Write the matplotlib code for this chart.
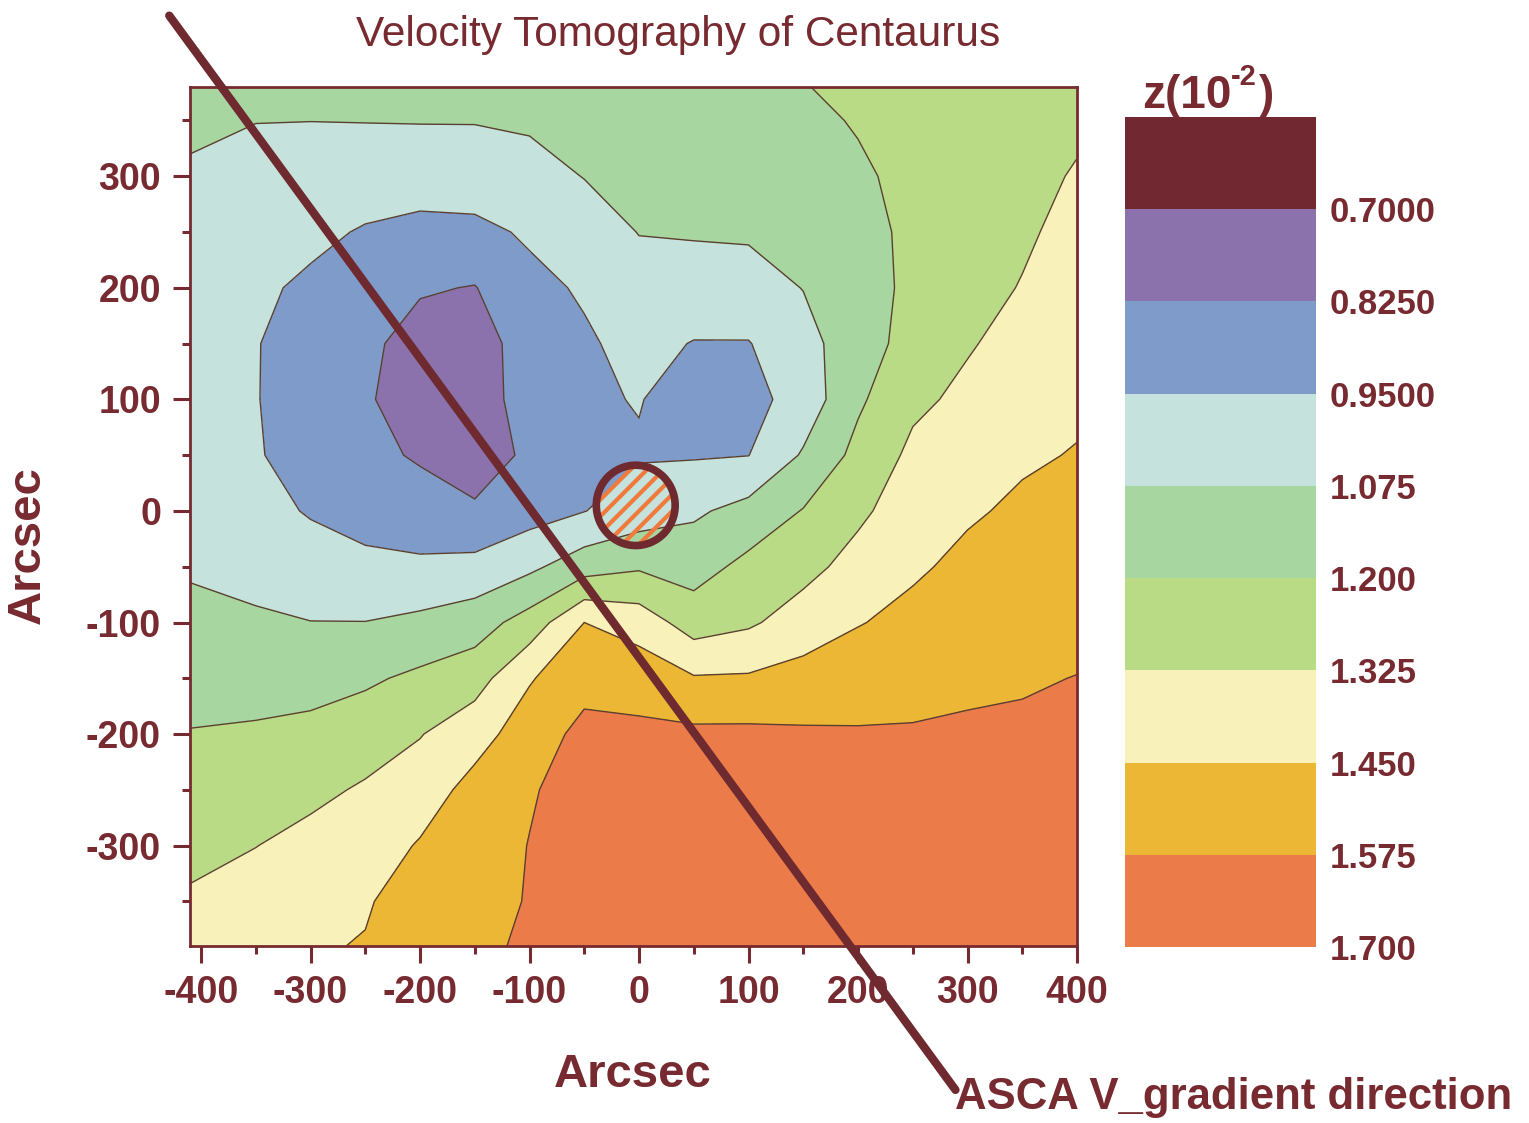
import numpy as np
import matplotlib.pyplot as plt
from matplotlib.patches import Circle

plt.rcParams['font.family'] = ['Liberation Sans', 'DejaVu Sans']
plt.rcParams['axes.unicode_minus'] = False
plt.rcParams['hatch.linewidth'] = 3.0

# Redshift z (units of 1e-2) on a coarse grid (arcsec)
x_arcsec = [-410, -350, -300, -250, -200, -150, -100, -50, 0, 50, 100, 150, 200, 250, 300, 350, 400]
y_arcsec = [380, 350, 300, 250, 200, 150, 100, 50, 0, -50, -100, -150, -200, -250, -300, -350, -390]

# one row per y value, top to bottom
z_rows = [
    [1.110, 1.090, 1.085, 1.090, 1.095, 1.100, 1.110, 1.130, 1.150, 1.160, 1.170, 1.195, 1.230, 1.260, 1.280, 1.290, 1.300],
    [1.090, 1.077, 1.076, 1.078, 1.080, 1.080, 1.090, 1.110, 1.130, 1.140, 1.150, 1.170, 1.210, 1.250, 1.275, 1.290, 1.310],
    [1.065, 1.040, 1.025, 1.009, 1.003, 1.012, 1.036, 1.078, 1.100, 1.110, 1.120, 1.130, 1.180, 1.235, 1.270, 1.300, 1.332],
    [1.040, 1.000, 0.976, 0.940, 0.918, 0.921, 0.965, 1.021, 1.078, 1.085, 1.090, 1.100, 1.160, 1.225, 1.275, 1.310, 1.356],
    [1.020, 0.970, 0.930, 0.900, 0.836, 0.820, 0.920, 0.963, 1.032, 1.021, 1.025, 1.078, 1.150, 1.225, 1.290, 1.330, 1.381],
    [1.005, 0.955, 0.900, 0.850, 0.780, 0.760, 0.890, 0.935, 0.985, 0.945, 0.945, 1.030, 1.150, 1.240, 1.315, 1.365, 1.406],
    [1.000, 0.955, 0.890, 0.840, 0.760, 0.740, 0.900, 0.935, 0.955, 0.900, 0.910, 1.000, 1.180, 1.300, 1.351, 1.400, 1.430],
    [1.005, 0.960, 0.900, 0.860, 0.810, 0.770, 0.845, 0.910, 0.940, 0.940, 0.948, 1.088, 1.236, 1.351, 1.394, 1.435, 1.456],
    [1.020, 0.990, 0.940, 0.910, 0.885, 0.840, 0.900, 0.947, 1.010, 1.056, 1.116, 1.206, 1.300, 1.392, 1.436, 1.469, 1.486],
    [1.065, 1.040, 1.006, 0.975, 0.969, 0.988, 1.049, 1.145, 1.185, 1.150, 1.234, 1.286, 1.370, 1.433, 1.477, 1.501, 1.516],
    [1.100, 1.090, 1.077, 1.077, 1.103, 1.142, 1.253, 1.450, 1.396, 1.266, 1.307, 1.383, 1.444, 1.482, 1.516, 1.534, 1.547],
    [1.157, 1.154, 1.157, 1.181, 1.225, 1.272, 1.440, 1.532, 1.523, 1.460, 1.464, 1.495, 1.518, 1.536, 1.555, 1.566, 1.577],
    [1.205, 1.215, 1.231, 1.267, 1.319, 1.403, 1.510, 1.610, 1.600, 1.600, 1.600, 1.590, 1.585, 1.585, 1.590, 1.590, 1.595],
    [1.250, 1.269, 1.297, 1.339, 1.390, 1.490, 1.565, 1.620, 1.630, 1.630, 1.625, 1.620, 1.615, 1.610, 1.605, 1.600, 1.605],
    [1.295, 1.323, 1.361, 1.388, 1.460, 1.520, 1.578, 1.630, 1.645, 1.645, 1.640, 1.635, 1.630, 1.625, 1.620, 1.615, 1.615],
    [1.339, 1.377, 1.400, 1.436, 1.520, 1.545, 1.580, 1.640, 1.650, 1.650, 1.645, 1.645, 1.640, 1.635, 1.630, 1.625, 1.620],
    [1.375, 1.421, 1.435, 1.458, 1.560, 1.565, 1.582, 1.640, 1.650, 1.650, 1.650, 1.650, 1.645, 1.640, 1.635, 1.630, 1.625],
]

levels = [0.575, 0.700, 0.825, 0.950, 1.075, 1.200, 1.325, 1.450, 1.575, 1.700]
level_labels = ['0.7000', '0.8250', '0.9500', '1.075', '1.200', '1.325', '1.450', '1.575', '1.700']
band_colors = ['#722830', '#8c72ad', '#7f9bca', '#c6e2dd', '#a8d6a1', '#badb86',
               '#f8f1ba', '#ecb734', '#ec7b4a']

# cluster core marker and ASCA gradient direction
core_x, core_y, core_r = -3, 5, 36
grad_x = [-429, 289]
grad_y = [444, -519]

maroon = '#772a2f'
line_col = '#5a4030'

fig = plt.figure(figsize=(15.29, 11.23), dpi=100)
ax = fig.add_axes([0.1243, 0.1576, 0.5801, 0.7649])

X, Y = np.meshgrid(x_arcsec, y_arcsec[::-1])
Z = np.flipud(np.array(z_rows))
ax.contourf(X, Y, Z, levels=levels, colors=band_colors)
ax.contour(X, Y, Z, levels=levels[1:-1], colors=line_col, linewidths=1.0)

# hatched core circle
ax.add_patch(Circle((core_x, core_y), core_r, facecolor='none', edgecolor='#f07a3c',
                    linewidth=0, hatch='//', zorder=3))
ax.add_patch(Circle((core_x, core_y), core_r, facecolor='none', edgecolor='#6e2a2e',
                    linewidth=5.5, zorder=4))

ax.plot(grad_x, grad_y, color='#6e2a2e', linewidth=6, solid_capstyle='round',
        clip_on=False, zorder=5)
ax.text(grad_x[1], grad_y[1] - 7, 'ASCA V_gradient direction', color=maroon,
        fontsize=31.5, fontweight='bold', ha='left', va='center')

ax.set_xlim(-410, 400)
ax.set_ylim(-390, 380)
ax.set_xticks(np.arange(-400, 401, 100))
ax.set_xticks(np.arange(-350, 400, 100), minor=True)
ax.set_yticks(np.arange(-300, 301, 100))
ax.set_yticks(np.arange(-350, 400, 100), minor=True)
ax.tick_params(which='both', direction='out', colors=maroon, width=2.2,
               labelsize=27, pad=9, top=False, right=False)
ax.tick_params(which='major', length=12)
ax.tick_params(which='minor', length=6)
for lab in ax.get_xticklabels() + ax.get_yticklabels():
    lab.set_fontweight('bold')
for sp in ax.spines.values():
    sp.set_color(maroon)
    sp.set_linewidth(2)

ax.set_xlabel('Arcsec', fontsize=34, fontweight='bold', color=maroon)
ax.set_ylabel('Arcsec', fontsize=34, fontweight='bold', color=maroon)
ax.xaxis.set_label_coords(0.499, -0.125)
ax.yaxis.set_label_coords(-0.158, 0.467)

fig.text(678 / 1529, 1 - 35 / 1123, 'Velocity Tomography of Centaurus', color=maroon,
         fontsize=30.5, ha='center', va='center')

# stepped colour scale, low values on top
cax = fig.add_axes([0.7358, 0.1567, 0.1249, 0.7391])
for i, c in enumerate(band_colors):
    cax.bar(0, levels[i + 1] - levels[i], bottom=levels[i], width=1, color=c)
cax.set_xlim(-0.5, 0.5)
cax.set_ylim(levels[-1], levels[0])
cax.set_xticks([])
cax.set_yticks(levels[1:])
cax.set_yticklabels(level_labels)
cax.yaxis.tick_right()
cax.tick_params(axis='y', length=0, pad=10, labelsize=25, colors=maroon)
for lab in cax.get_yticklabels():
    lab.set_fontweight('bold')
for sp in cax.spines.values():
    sp.set_visible(False)

# colour scale heading z(10^-2), built from pieces so the minus stays a hyphen
head = fig.text(1142 / 1529, 1 - 108 / 1123, 'z(10', fontsize=33, fontweight='bold',
                color=maroon, ha='left', va='baseline')
sup = ax.annotate('-2', xy=(1.0, 0.62), xycoords=head, fontsize=21, fontweight='bold',
                  color=maroon, ha='left', va='bottom', annotation_clip=False)
ax.annotate(')', xy=(1.0, 0.0), xycoords=(sup, head), xytext=(1, 0),
            textcoords='offset points', fontsize=33, fontweight='bold', color=maroon,
            ha='left', va='bottom', annotation_clip=False)

fig.savefig('out.png', dpi=100)
